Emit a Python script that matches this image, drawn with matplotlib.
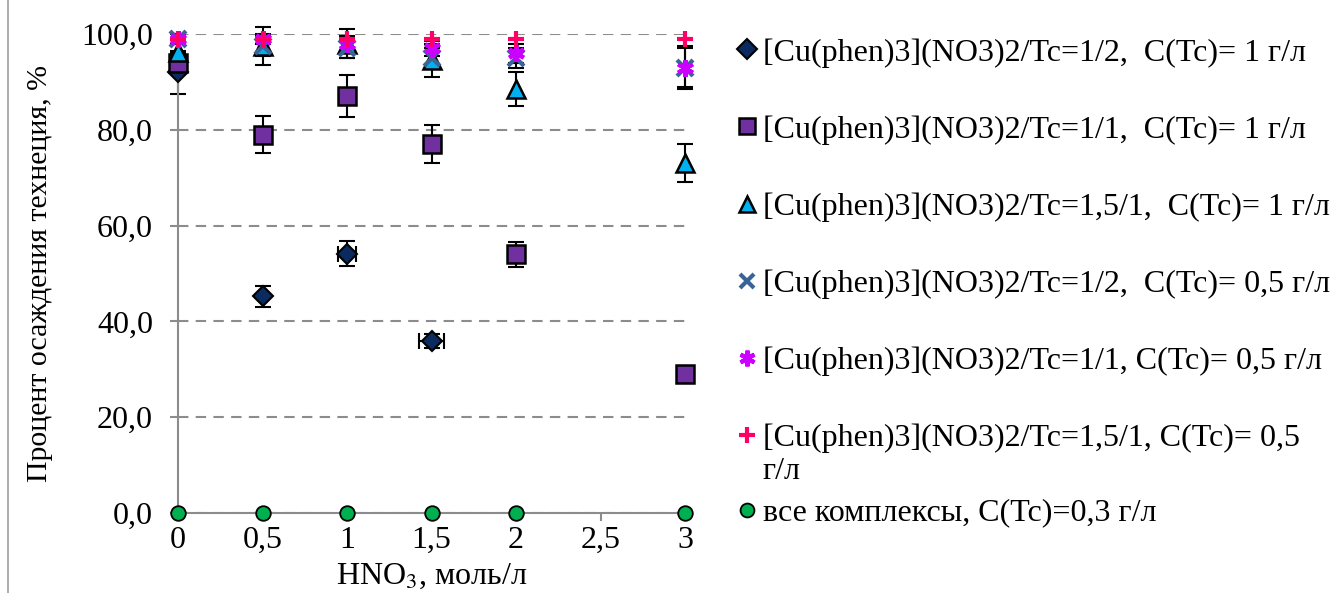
import matplotlib
matplotlib.use('Agg')
import matplotlib.pyplot as plt
import numpy as np
from matplotlib.ticker import FuncFormatter, MultipleLocator
from matplotlib.lines import Line2D

plt.rcParams['font.family'] = ['Liberation Serif', 'DejaVu Serif']
plt.rcParams['mathtext.fontset'] = 'stix'

# HNO3 concentration, mol/l
x_all = [0, 0.5, 1, 1.5, 2, 3]

# [Cu(phen)3](NO3)2/Tc=1/2, C(Tc)=1 g/l
x_d = [0, 0.5, 1, 1.5]
y_d = [92, 45.2, 54.1, 35.9]
ye_d = [4.5, 2.2, 2.6, 1.5]
xe_d = [0, 0, 0.053, 0.074]

# 1/1, 1 g/l
y_s = [94, 79, 87, 77, 54, 29]
ye_s = [2, 3.9, 4.4, 3.9, 2.6, 0]

# 1,5/1, 1 g/l
y_t = [96.2, 97.5, 98, 94.5, 88.5, 73]
ye_t = [3, 4, 3, 3.5, 3.5, 4]

# 1/2, 0.5 g/l
y_x = [99, 97.5, 97, 95, 95, 93]
ye_x = [1, 2, 2, 2, 2, 4.5]

# 1/1, 0.5 g/l
y_a = [99, 99, 98, 97, 96, 93]
ye_a = [1, 1, 1.5, 1.5, 2, 4]

# 1,5/1, 0.5 g/l
y_p = [99, 99, 99, 99, 99, 99]

# all complexes, 0.3 g/l
y_c = [0, 0, 0, 0, 0, 0]

labels = ['[Cu(phen)3](NO3)2/Tc=1/2,  C(Tc)= 1 г/л',
          '[Cu(phen)3](NO3)2/Tc=1/1,  C(Tc)= 1 г/л',
          '[Cu(phen)3](NO3)2/Tc=1,5/1,  C(Tc)= 1 г/л',
          '[Cu(phen)3](NO3)2/Tc=1/2,  C(Tc)= 0,5 г/л',
          '[Cu(phen)3](NO3)2/Tc=1/1, C(Tc)= 0,5 г/л',
          '[Cu(phen)3](NO3)2/Tc=1,5/1, C(Tc)= 0,5\nг/л',
          'все комплексы, C(Tc)=0,3 г/л']

W, H = 1335., 593.
fig = plt.figure(figsize=(13.35, 5.93), dpi=100)
ax = fig.add_axes([178/W, 1-513/H, (685-178)/W, (513-34)/H])

# thin chart border on the left
fig.add_artist(Line2D([8/W, 8/W], [0, 1], color='#A0A0A0', lw=1.2))

ekw = dict(ecolor='black', elinewidth=1.5, capsize=6, capthick=1.5, ls='none', clip_on=False)

ax.errorbar(x_all, y_x, yerr=ye_x, fmt='none', zorder=2, **ekw)
ax.errorbar(x_all, y_a, yerr=ye_a, fmt='none', zorder=2, **ekw)
ax.errorbar(x_all, y_t, yerr=ye_t, fmt='none', zorder=2, **ekw)
ax.errorbar(x_all, y_s, yerr=ye_s, fmt='none', zorder=2, **ekw)
ax.errorbar(x_d, y_d, yerr=ye_d, xerr=xe_d, fmt='none', zorder=2, **ekw)

h = []
h.append(ax.plot(x_d, y_d, 'D', ms=10.5, mfc='#0B2A5E', mec='black', mew=1.5, ls='none', clip_on=False, zorder=3)[0])
h.append(ax.plot(x_all, y_s, 's', ms=12.5, mfc='#7030A0', mec='black', mew=1.8, ls='none', clip_on=False, zorder=3)[0])
h.append(ax.plot(x_all, y_t, '^', ms=12.5, mfc='#00B0F0', mec='black', mew=1.8, ls='none', clip_on=False, zorder=3)[0])
h.append(ax.plot(x_all, y_x, 'x', ms=11, mec='#3B6496', mew=3, ls='none', clip_on=False, zorder=4)[0])
h.append(ax.plot(x_all, y_a, marker=(6, 2, 0), ms=12, mec='#CC00FF', mew=3, ls='none', clip_on=False, zorder=5)[0])
h.append(ax.plot(x_all, y_p, '+', ms=12, mec='#FF0066', mew=3, ls='none', clip_on=False, zorder=6)[0])
h.append(ax.plot(x_all, y_c, 'o', ms=10.5, mfc='#00B050', mec='black', mew=1.3, ls='none', clip_on=False, zorder=6)[0])

ax.set_xlim(0, 3)
ax.set_ylim(0, 100)
ax.xaxis.set_major_locator(MultipleLocator(0.5))
ax.yaxis.set_major_locator(MultipleLocator(20))
ax.xaxis.set_major_formatter(FuncFormatter(lambda v, p: ('%g' % v).replace('.', ',')))
ax.yaxis.set_major_formatter(FuncFormatter(lambda v, p: ('%.1f' % v).replace('.', ',')))
ax.yaxis.grid(True, ls=(0, (5, 3.5)), color='#8C8C8C', lw=1.5)
ax.set_axisbelow(True)
for s in ['top', 'right']:
    ax.spines[s].set_visible(False)
for s in ['left', 'bottom']:
    ax.spines[s].set_color('#8C8C8C')
    ax.spines[s].set_linewidth(1.5)
ax.tick_params(axis='both', colors='#8C8C8C', width=1.5, length=6, labelsize=23, labelcolor='black')
ax.tick_params(axis='y', pad=12)
ax.tick_params(axis='x', pad=3)

ax.set_ylabel('Процент осаждения технеция, %', fontsize=21.5, labelpad=20)
ax.set_xlabel('HNO$_3$, моль/л', fontsize=23, labelpad=5)

lkw = dict(frameon=False, fontsize=23, markerscale=0.95, handlelength=0.6,
           handletextpad=0.2, borderaxespad=0, borderpad=0)
leg1 = fig.legend(h[:6], labels[:6], loc='upper left', bbox_to_anchor=(737/W, 1-38/H),
                  labelspacing=1.49, **lkw)
# marker of the wrapped entry sits on its first line
rows = leg1._legend_handle_box.get_children()[0].get_children()
rows[5].align = 'top'
leg2 = fig.legend(h[6:], labels[6:], loc='center left', bbox_to_anchor=(737/W, 1-513/H), **lkw)

fig.savefig('out.png', dpi=100)
